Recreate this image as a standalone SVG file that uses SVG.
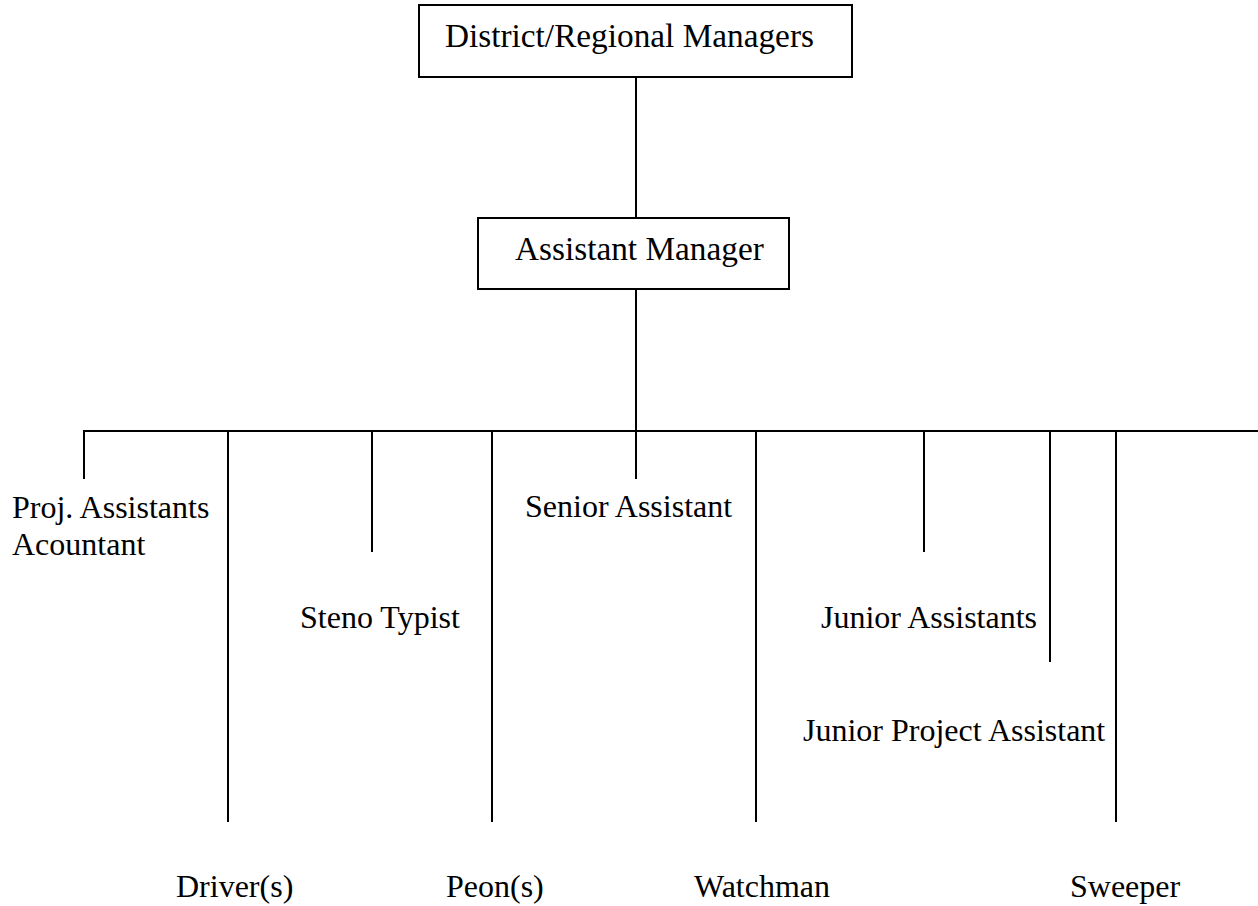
<svg xmlns="http://www.w3.org/2000/svg" width="1258" height="906" viewBox="0 0 1258 906">
<style>
.box{fill:#fff;stroke:#000;stroke-width:2}
.ln{stroke:#000;stroke-width:2;fill:none}
text{font-family:"Liberation Serif","Times New Roman",serif;font-size:32px;fill:#000}
.bt{font-size:33.3px}
</style>
<rect width="1258" height="906" fill="#fff"/>
<g id="connectors">
<line class="ln" x1="636" y1="77" x2="636" y2="218"/>
<line class="ln" x1="636" y1="289" x2="636" y2="431"/>
<line class="ln" x1="83" y1="431" x2="1258" y2="431"/>
<line class="ln" x1="84" y1="431" x2="84" y2="479"/>
<line class="ln" x1="228" y1="431" x2="228" y2="822"/>
<line class="ln" x1="372" y1="431" x2="372" y2="552"/>
<line class="ln" x1="492" y1="431" x2="492" y2="822"/>
<line class="ln" x1="636" y1="431" x2="636" y2="479"/>
<line class="ln" x1="756" y1="431" x2="756" y2="822"/>
<line class="ln" x1="924" y1="431" x2="924" y2="552"/>
<line class="ln" x1="1050" y1="431" x2="1050" y2="662"/>
<line class="ln" x1="1116" y1="431" x2="1116" y2="822"/>
</g>
<g id="district-regional-managers">
<rect class="box" x="419" y="5" width="433" height="72"/>
<text class="bt" x="445" y="47">District/Regional Managers</text>
</g>
<g id="assistant-manager">
<rect class="box" x="478" y="218" width="311" height="71"/>
<text class="bt" x="515" y="260">Assistant Manager</text>
</g>
<g id="proj-assistants">
<text x="12" y="518">Proj. Assistants</text>
<text x="12" y="555">Acountant</text>
</g>
<g id="senior-assistant"><text x="525" y="517">Senior Assistant</text></g>
<g id="steno-typist"><text x="300" y="628">Steno Typist</text></g>
<g id="junior-assistants"><text x="821" y="628">Junior Assistants</text></g>
<g id="junior-project-assistant"><text x="803" y="741">Junior Project Assistant</text></g>
<g id="drivers"><text x="176" y="897">Driver(s)</text></g>
<g id="peons"><text x="446" y="897">Peon(s)</text></g>
<g id="watchman"><text x="694" y="897">Watchman</text></g>
<g id="sweeper"><text x="1070" y="897">Sweeper</text></g>
</svg>
